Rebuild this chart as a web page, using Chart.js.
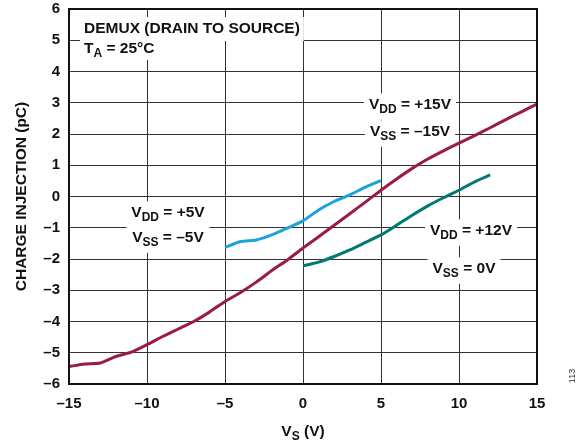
<!DOCTYPE html>
<html>
<head>
<meta charset="utf-8">
<script src="https://cdn.jsdelivr.net/npm/chart.js@4"></script>
<style>
  html, body { margin: 0; padding: 0; background: #fff; }
  #wrap { width: 586px; height: 444px; position: relative; }
</style>
</head>
<body>
<div id="wrap"><canvas id="chart" width="586" height="444"></canvas></div>
<script>
// Charge injection vs source voltage
const vsDual15 = [-15, -14, -13, -12, -11, -10, -9, -8, -7, -6, -5, -4, -3, -2, -1, 0, 1, 2, 3, 4, 5, 6, 7, 8, 9, 10, 11, 12, 13, 14, 15];
const qDual15 = [-5.44, -5.36, -5.33, -5.12, -4.98, -4.74, -4.48, -4.24, -4.0, -3.7, -3.36, -3.07, -2.74, -2.37, -2.03, -1.65, -1.29, -0.92, -0.55, -0.18, 0.2, 0.56, 0.9, 1.2, 1.46, 1.71, 1.95, 2.2, 2.46, 2.71, 2.96];

const vsDual5 = [-5, -4, -3, -2, -1, 0, 1, 2, 3, 4, 5];
const qDual5 = [-1.63, -1.44, -1.39, -1.23, -1.01, -0.78, -0.43, -0.16, 0.05, 0.3, 0.51];

const vsSingle12 = [0, 1, 2, 3, 4, 5, 6, 7, 8, 9, 10, 11, 12];
const qSingle12 = [-2.22, -2.1, -1.92, -1.71, -1.47, -1.23, -0.92, -0.6, -0.3, -0.04, 0.2, 0.47, 0.69];

const xTicks = [-15, -10, -5, 0, 5, 10, 15];
const yTicks = [-6, -5, -4, -3, -2, -1, 0, 1, 2, 3, 4, 5, 6];

const FONT = "'Liberation Sans', Arial, sans-serif";
const LBL = 15.5;

function pts(xs, ys) {
  return xs.map((x, i) => ({ x: x, y: ys[i] }));
}

function dash(v) {
  return String(v).replace("-", "\u2013");
}

function measure(ctx, parts, size) {
  ctx.font = "bold " + size + "px " + FONT;
  let w = ctx.measureText(parts[0]).width + ctx.measureText(parts[2]).width;
  ctx.font = "bold " + Math.round(size * 0.78) + "px " + FONT;
  return w + ctx.measureText(parts[1]).width;
}

// draws "main" + subscript + rest
function subText(ctx, parts, x, y, size, align) {
  const big = "bold " + size + "px " + FONT;
  const small = "bold " + Math.round(size * 0.78) + "px " + FONT;
  const total = measure(ctx, parts, size);
  let sx = align === "center" ? x - total / 2 : x;
  ctx.textAlign = "left";
  ctx.textBaseline = "middle";
  ctx.font = big;
  const w1 = ctx.measureText(parts[0]).width;
  ctx.fillText(parts[0], sx, y);
  ctx.font = small;
  const w2 = ctx.measureText(parts[1]).width;
  ctx.fillText(parts[1], sx + w1, y + size * 0.3);
  ctx.font = big;
  ctx.fillText(parts[2], sx + w1 + w2, y);
}

function boxedLabel(ctx, parts, x, y) {
  ctx.save();
  const w = measure(ctx, parts, LBL);
  ctx.fillStyle = "#fff";
  ctx.fillRect(x - w / 2 - 5, y - LBL * 0.75, w + 10, LBL * 1.7);
  ctx.fillStyle = "#111";
  subText(ctx, parts, x, y, LBL, "center");
  ctx.restore();
}

const labelsPlugin = {
  id: "labels",
  beforeDatasetsDraw(chart) {
    const ctx = chart.ctx;
    // header block
    ctx.save();
    ctx.font = "bold " + LBL + "px " + FONT;
    const w = ctx.measureText("DEMUX (DRAIN TO SOURCE)").width;
    ctx.fillStyle = "#fff";
    ctx.fillRect(80, 17, w + 8, 24);
    ctx.fillRect(80, 40, measure(ctx, ["T", "A", " = 25\u00b0C"], LBL) + 8, 20);
    ctx.fillStyle = "#111";
    ctx.font = "bold " + LBL + "px " + FONT;
    ctx.textAlign = "left";
    ctx.textBaseline = "middle";
    ctx.fillText("DEMUX (DRAIN TO SOURCE)", 84, 29);
    subText(ctx, ["T", "A", " = 25\u00b0C"], 84, 49, LBL, "left");
    ctx.restore();

    boxedLabel(ctx, ["V", "DD", " = +5V"], 168, 213);
    boxedLabel(ctx, ["V", "SS", " = \u20135V"], 168, 238);
    boxedLabel(ctx, ["V", "DD", " = +15V"], 410, 105);
    boxedLabel(ctx, ["V", "SS", " = \u201315V"], 410, 132);
    boxedLabel(ctx, ["V", "DD", " = +12V"], 471, 231);
    boxedLabel(ctx, ["V", "SS", " = 0V"], 464, 269);
  },
  afterDraw(chart) {
    const ctx = chart.ctx;
    const a = chart.chartArea;
    ctx.save();
    // plot frame
    ctx.strokeStyle = "#111";
    ctx.lineWidth = 2;
    ctx.strokeRect(a.left, a.top, a.right - a.left, a.bottom - a.top);
    // x title
    ctx.fillStyle = "#111";
    subText(ctx, ["V", "S", " (V)"], (a.left + a.right) / 2, 432, LBL, "center");
    // y title
    ctx.translate(22, (a.top + a.bottom) / 2);
    ctx.rotate(-Math.PI / 2);
    ctx.font = "bold " + LBL + "px " + FONT;
    ctx.textAlign = "center";
    ctx.textBaseline = "middle";
    ctx.fillText("CHARGE INJECTION (pC)", 0, 0);
    ctx.restore();
    // figure number
    ctx.save();
    ctx.translate(573, 376);
    ctx.rotate(-Math.PI / 2);
    ctx.fillStyle = "#333";
    ctx.font = "9px " + FONT;
    ctx.textAlign = "center";
    ctx.textBaseline = "middle";
    ctx.fillText("113", 0, 0);
    ctx.restore();
  }
};

new Chart(document.getElementById("chart"), {
  type: "line",
  data: {
    datasets: [
      {
        label: "VDD = +15V, VSS = -15V",
        data: pts(vsDual15, qDual15),
        borderColor: "#9b1b47",
        borderWidth: 3,
        pointRadius: 0,
        tension: 0.2
      },
      {
        label: "VDD = +5V, VSS = -5V",
        data: pts(vsDual5, qDual5),
        borderColor: "#1aa2dc",
        borderWidth: 3,
        pointRadius: 0,
        tension: 0.2
      },
      {
        label: "VDD = +12V, VSS = 0V",
        data: pts(vsSingle12, qSingle12),
        borderColor: "#007a70",
        borderWidth: 3,
        pointRadius: 0,
        tension: 0.2
      }
    ]
  },
  options: {
    responsive: false,
    animation: false,
    layout: { padding: { left: 30, right: 49, top: 9, bottom: 36 } },
    plugins: {
      legend: { display: false },
      tooltip: { enabled: false }
    },
    scales: {
      x: {
        type: "linear",
        min: -15,
        max: 15,
        afterBuildTicks: (s) => { s.ticks = xTicks.map((v) => ({ value: v })); },
        afterFit: (s) => { s.height = 24; s.paddingLeft = 0; s.paddingRight = 0; },
        grid: { color: "#333", lineWidth: 1, drawTicks: false },
        border: { display: false },
        ticks: {
          padding: 11,
          color: "#111",
          font: { family: FONT, size: 15, weight: "bold" },
          callback: (v) => dash(v)
        }
      },
      y: {
        min: -6,
        max: 6,
        afterBuildTicks: (s) => { s.ticks = yTicks.map((v) => ({ value: v })); },
        afterFit: (s) => { s.width = 39; s.paddingTop = 0; s.paddingBottom = 0; },
        grid: { color: "#333", lineWidth: 1, drawTicks: false },
        border: { display: false },
        ticks: {
          padding: 9,
          color: "#111",
          font: { family: FONT, size: 15, weight: "bold" },
          callback: (v) => dash(v)
        }
      }
    }
  },
  plugins: [labelsPlugin]
});
</script>
</body>
</html>
